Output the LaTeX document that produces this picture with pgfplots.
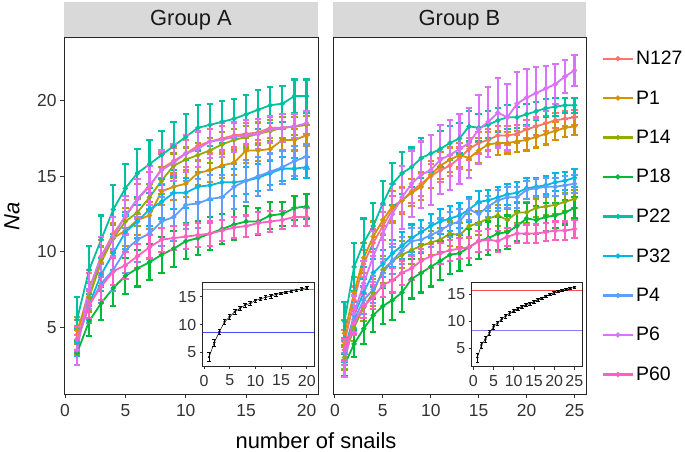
\documentclass[border=0pt]{standalone}
\usepackage{pgfplots}
\usepackage{pgfplotstable}
\usepackage{fontspec}
\setmainfont{Liberation Sans}
\pgfplotsset{compat=1.18}

\definecolor{cN127}{HTML}{F8766D}
\definecolor{cP1}{HTML}{D39200}
\definecolor{cP14}{HTML}{93AA00}
\definecolor{cP18}{HTML}{00BA38}
\definecolor{cP22}{HTML}{00C19F}
\definecolor{cP32}{HTML}{00B9E3}
\definecolor{cP4}{HTML}{619CFF}
\definecolor{cP6}{HTML}{DB72FB}
\definecolor{cP60}{HTML}{FF61C3}
\definecolor{strip}{HTML}{D9D9D9}

\pgfplotstableread{
x N127 eN127 P1 eP1 P14 eP14 P18 eP18 P22 eP22 P32 eP32 P4 eP4 P6 eP6 P60 eP60
1 4.5 1.0 4.8 0.9 4.0 0.8 3.3 0.8 5.5 1.5 4.0 0.9 4.2 0.9 3.5 1.0 4.2 0.8
2 7.5 1.1 7.0 1.0 7.0 0.9 5.4 1.0 8.8 1.6 6.5 1.0 6.4 1.1 7.5 1.3 6.5 0.9
3 9.7 1.1 9.3 1.0 9.5 0.9 6.6 1.1 10.8 1.6 8.5 1.1 7.9 1.3 9.7 1.3 7.7 0.9
4 11.2 1.1 10.9 1.0 10.9 0.9 7.6 1.2 12.8 1.6 9.9 1.1 8.8 1.4 11.0 1.3 8.7 0.9
5 12.3 1.1 11.4 1.0 12.0 0.9 8.4 1.2 14.2 1.6 11.3 1.1 10.1 1.5 12.4 1.3 9.1 0.9
6 13.5 1.0 12.1 1.0 12.6 0.9 8.9 1.2 15.2 1.6 12.0 1.1 10.8 1.5 13.5 1.3 9.7 0.8
7 14.3 1.0 12.4 0.9 13.6 0.9 9.3 1.2 15.8 1.6 12.8 1.1 11.2 1.6 14.4 1.3 10.3 0.8
8 15.5 1.0 14.0 0.9 14.7 0.9 9.8 1.2 16.4 1.6 13.3 1.1 12.0 1.6 15.4 1.3 10.8 0.8
9 16.0 0.9 14.3 0.9 15.7 0.8 10.2 1.2 17.0 1.6 13.9 1.1 12.3 1.6 15.9 1.2 10.9 0.8
10 16.5 0.9 14.5 0.9 16.1 0.8 10.7 1.2 17.6 1.5 13.9 1.0 13.1 1.6 16.5 1.2 11.0 0.8
11 17.0 0.9 15.2 0.8 16.4 0.8 10.9 1.1 18.2 1.5 14.3 1.0 13.2 1.6 16.8 1.2 11.1 0.8
12 17.3 0.8 15.4 0.8 16.7 0.8 11.2 1.1 18.4 1.4 14.4 1.0 13.5 1.6 17.3 1.1 11.2 0.8
13 17.5 0.8 15.7 0.8 17.1 0.8 11.5 1.0 18.6 1.4 14.6 1.0 13.6 1.5 17.4 1.1 11.4 0.7
14 17.7 0.8 15.9 0.8 17.4 0.7 11.8 1.0 18.8 1.3 14.6 0.9 14.3 1.5 17.6 1.0 11.6 0.7
15 17.8 0.7 16.7 0.8 17.6 0.7 12.0 1.0 19.1 1.3 14.7 0.9 14.7 1.4 17.7 1.0 11.7 0.7
16 17.9 0.7 16.7 0.7 17.8 0.7 12.0 0.9 19.4 1.3 14.9 0.9 15.0 1.3 17.8 1.0 11.9 0.7
17 18.2 0.7 16.8 0.7 18.0 0.7 12.4 0.9 19.7 1.2 15.2 0.8 15.3 1.2 18.1 0.9 12.0 0.7
18 18.2 0.7 17.4 0.7 18.2 0.7 12.5 0.8 19.8 1.2 15.5 0.8 15.6 1.1 18.2 0.9 12.1 0.6
19 18.3 0.6 17.4 0.7 18.3 0.6 12.9 0.8 20.3 1.1 15.5 0.7 16.0 1.0 18.3 0.8 12.3 0.6
20 18.4 0.6 17.7 0.7 18.4 0.6 13.0 0.8 20.3 1.1 15.6 0.7 16.3 0.8 18.5 0.8 12.3 0.6
}\tA

\pgfplotstableread{
x N127 eN127 P1 eP1 P14 eP14 P18 eP18 P22 eP22 P32 eP32 P4 eP4 P6 eP6 P60 eP60
1 4.0 0.8 4.6 0.9 3.0 0.8 2.5 0.7 5.4 1.3 3.5 0.8 3.3 0.8 2.5 0.8 3.5 0.7
2 6.8 0.9 7.3 1.0 5.0 0.9 3.9 0.9 9.0 1.6 5.8 0.9 5.5 0.9 5.9 1.2 5.3 0.8
3 9.2 0.9 9.6 1.0 6.3 0.9 4.9 1.0 10.6 1.6 7.3 0.9 6.8 0.9 7.9 1.5 6.4 0.8
4 10.6 0.9 11.0 1.0 7.3 0.9 5.8 1.1 11.7 1.5 8.6 0.9 7.5 0.9 9.7 1.7 7.0 0.8
5 11.7 0.9 12.1 1.0 8.8 0.9 6.4 1.2 13.2 1.5 9.2 0.9 8.6 0.9 11.2 1.9 7.8 0.8
6 12.8 0.9 13.0 1.0 9.4 0.9 6.8 1.3 14.5 1.4 9.9 0.9 9.4 0.9 12.5 2.0 8.1 0.8
7 13.4 0.8 13.4 0.9 9.8 0.9 7.3 1.3 15.2 1.4 10.4 0.9 10.1 0.9 13.6 2.1 8.6 0.8
8 14.0 0.8 13.9 0.9 10.1 0.9 8.2 1.3 15.6 1.3 10.9 0.9 10.7 0.9 14.5 2.2 8.9 0.8
9 14.5 0.8 14.3 0.9 10.4 0.9 8.6 1.3 16.2 1.3 11.3 0.8 10.8 0.8 15.1 2.2 9.4 0.8
10 15.0 0.8 15.1 0.9 10.6 0.8 9.0 1.3 16.5 1.2 11.7 0.8 11.1 0.8 15.4 2.3 9.7 0.8
11 15.4 0.8 15.7 0.9 10.8 0.8 9.4 1.3 16.8 1.2 12.0 0.8 11.4 0.8 16.1 2.3 9.9 0.7
12 15.7 0.7 16.1 0.8 11.2 0.8 9.8 1.3 17.2 1.1 12.2 0.8 11.8 0.8 16.4 2.3 10.1 0.7
13 16.2 0.7 16.4 0.8 11.1 0.8 9.9 1.2 17.5 1.0 12.4 0.8 12.0 0.8 16.8 2.3 10.2 0.7
14 16.8 0.7 16.2 0.8 11.7 0.8 10.3 1.2 18.3 1.0 12.8 0.8 12.8 0.7 17.2 2.3 10.3 0.7
15 17.2 0.7 16.7 0.8 11.9 0.8 10.7 1.2 18.2 0.9 13.3 0.7 12.5 0.7 18.1 2.3 10.7 0.7
16 17.4 0.7 17.1 0.8 12.2 0.7 10.9 1.1 18.4 0.9 13.4 0.7 13.0 0.7 18.6 2.3 10.8 0.7
17 17.7 0.6 17.2 0.8 12.4 0.7 11.2 1.1 18.7 0.8 13.6 0.7 13.4 0.7 19.2 2.3 10.7 0.7
18 17.7 0.6 17.2 0.7 12.1 0.7 11.3 1.1 18.9 0.8 13.8 0.7 13.6 0.7 18.9 2.2 11.0 0.6
19 17.8 0.6 17.3 0.7 12.6 0.7 11.7 1.0 18.9 0.7 13.9 0.7 13.6 0.7 19.8 2.1 11.2 0.6
20 18.1 0.6 17.4 0.7 12.6 0.7 12.2 1.0 19.1 0.7 14.2 0.7 14.1 0.6 20.2 1.9 11.2 0.6
21 18.3 0.6 17.6 0.7 12.9 0.6 12.1 0.9 19.3 0.6 14.3 0.6 14.2 0.6 20.5 1.7 11.2 0.6
22 18.5 0.5 17.8 0.7 13.0 0.6 12.3 0.9 19.5 0.6 14.4 0.6 14.3 0.6 20.8 1.5 11.3 0.6
23 18.7 0.5 18.0 0.6 13.1 0.6 12.4 0.8 19.6 0.6 14.6 0.6 14.3 0.6 21.1 1.3 11.4 0.6
24 18.8 0.5 18.2 0.6 13.3 0.6 12.6 0.8 19.7 0.5 14.7 0.6 14.4 0.6 21.6 1.1 11.4 0.6
25 18.9 0.5 18.3 0.6 13.5 0.6 12.9 0.7 19.7 0.5 14.9 0.6 14.5 0.6 22.0 1.0 11.5 0.6
}\tB

\pgfplotstableread{
x y e
1 4.2 0.8
2 6.8 0.6
3 8.75 0.5
4 10.5 0.5
5 11.4 0.45
6 12.3 0.4
7 12.9 0.4
8 13.5 0.35
9 13.8 0.35
10 14.3 0.3
11 14.6 0.3
12 14.9 0.3
13 15.1 0.3
14 15.4 0.25
15 15.6 0.25
16 15.8 0.25
17 16.0 0.2
18 16.2 0.2
19 16.4 0.2
20 16.6 0.2
}\iA

\pgfplotstableread{
x y e
1 3.3 0.8
2 5.6 0.6
3 6.7 0.5
4 7.9 0.5
5 9.0 0.45
6 9.7 0.4
7 10.4 0.4
8 11.0 0.35
9 11.5 0.35
10 11.9 0.3
11 12.3 0.3
12 12.7 0.3
13 13.0 0.3
14 13.3 0.25
15 13.6 0.25
16 14.0 0.25
17 14.3 0.2
18 14.7 0.2
19 15.0 0.2
20 15.3 0.2
21 15.5 0.2
22 15.7 0.2
23 15.9 0.15
24 16.1 0.15
25 16.3 0.15
}\iB

\pgfplotsset{
  mainax/.style={
    scale only axis, width=#1, height=356bp,
    ymin=0.58, ymax=24.15,
    tick align=outside, tick pos=left,
    major tick length=4bp,
    every tick/.style={black!80, line width=0.9bp},
    axis line style={black!85, line width=1bp},
    tick label style={font=\fontsize{17.5}{17.5}\selectfont, text=black!80},
    xticklabel style={yshift=-3bp},
    /pgf/number format/assume math mode=true,
  },
  ser/.style={color=#1, line width=1.8bp, mark=*, mark size=1.6bp, mark options={solid},
    error bars/.cd, y dir=both, y explicit,
    error bar style={line width=2.1bp, #1},
    error mark options={rotate=90, mark size=3.2bp, line width=2.1bp, #1}},
  inset/.style={
    scale only axis, axis background/.style={fill=white},
    axis line style={black!85, line width=0.9bp},
    tick align=outside, tick pos=left, major tick length=3bp,
    every tick/.style={black!80, line width=0.8bp},
    ytick={5,10,15},
    tick label style={font=\fontsize{16}{16}\selectfont, text=black!80},
    xticklabel style={yshift=-2.5bp},
    /pgf/number format/assume math mode=true,
  },
  iser/.style={black, line width=0.5bp, mark=*, mark size=0.9bp,
    error bars/.cd, y dir=both, y explicit,
    error bar style={line width=0.5bp},
    error mark options={rotate=90, mark size=1.8bp, line width=0.5bp}},
}

\begin{document}
\begin{tikzpicture}
\path[use as bounding box] (0bp,0bp) rectangle (685bp,452bp);

% strips
\fill[strip] (64bp,414bp) rectangle (318bp,450bp);
\node[font=\fontsize{22}{22}\selectfont, text=black!90] at (191bp,432bp) {Group A};
\fill[strip] (333bp,414bp) rectangle (586bp,450bp);
\node[font=\fontsize{22}{22}\selectfont, text=black!90] at (459.5bp,432bp) {Group B};

% Panel A
\begin{axis}[mainax=254bp, at={(64bp,58bp)}, anchor=south west,
  xmin=-0.08, xmax=20.95, xtick={0,5,10,15,20}, ytick={5,10,15,20}]
\addplot[ser=cN127] table[x=x, y=N127, y error=eN127] {\tA};
\addplot[ser=cP1] table[x=x, y=P1, y error=eP1] {\tA};
\addplot[ser=cP14] table[x=x, y=P14, y error=eP14] {\tA};
\addplot[ser=cP18] table[x=x, y=P18, y error=eP18] {\tA};
\addplot[ser=cP22] table[x=x, y=P22, y error=eP22] {\tA};
\addplot[ser=cP32] table[x=x, y=P32, y error=eP32] {\tA};
\addplot[ser=cP4] table[x=x, y=P4, y error=eP4] {\tA};
\addplot[ser=cP6] table[x=x, y=P6, y error=eP6] {\tA};
\addplot[ser=cP60] table[x=x, y=P60, y error=eP60] {\tA};
\end{axis}

% Panel B
\begin{axis}[mainax=253bp, at={(333bp,58bp)}, anchor=south west,
  xmin=-0.2, xmax=26.2, xtick={0,5,10,15,20,25}, ytick=\empty,
  legend style={at={(1.05,0.975)}, anchor=north west, draw=none, fill=none,
    font=\fontsize{19.5}{19.5}\selectfont, row sep=20.5bp,
    nodes={inner sep=2bp}},
  legend cell align=left,
  legend image code/.code={\draw[#1, mark repeat=2, mark phase=2, mark size=1.3bp, line width=2.2bp] plot coordinates {(0bp,0bp) (15bp,0bp) (30bp,0bp)};}]
\addplot[ser=cN127] table[x=x, y=N127, y error=eN127] {\tB};
\addplot[ser=cP1] table[x=x, y=P1, y error=eP1] {\tB};
\addplot[ser=cP14] table[x=x, y=P14, y error=eP14] {\tB};
\addplot[ser=cP18] table[x=x, y=P18, y error=eP18] {\tB};
\addplot[ser=cP22] table[x=x, y=P22, y error=eP22] {\tB};
\addplot[ser=cP32] table[x=x, y=P32, y error=eP32] {\tB};
\addplot[ser=cP4] table[x=x, y=P4, y error=eP4] {\tB};
\addplot[ser=cP6] table[x=x, y=P6, y error=eP6] {\tB};
\addplot[ser=cP60] table[x=x, y=P60, y error=eP60] {\tB};
\legend{N127,P1,P14,P18,P22,P32,P4,P6,P60}
\end{axis}

% Inset A
\begin{axis}[inset, width=111.3bp, height=83.3bp, at={(202.7bp,86bp)}, anchor=south west,
  xmin=-0.25, xmax=21.4, ymin=2.6, ymax=17.5, xtick={0,5,10,15,20}]
\addplot[red!60, line width=0.6bp] coordinates {(-0.25,16.3) (21.4,16.3)};
\addplot[blue!70, line width=0.6bp] coordinates {(-0.25,8.6) (21.4,8.6)};
\addplot[iser] table[x=x, y=y, y error=e] {\iA};
\end{axis}

% Inset B
\begin{axis}[inset, width=110.3bp, height=84bp, at={(471.7bp,85.3bp)}, anchor=south west,
  xmin=-0.4, xmax=26.9, ymin=1.6, ymax=17.15, xtick={0,5,10,15,20,25}]
\addplot[red!70, line width=0.6bp] coordinates {(-0.4,15.8) (26.9,15.8)};
\addplot[blue!50, line width=0.6bp] coordinates {(-0.4,8.3) (26.9,8.3)};
\addplot[iser] table[x=x, y=y, y error=e] {\iB};
\end{axis}

% axis titles
\node[font=\fontsize{22}{22}\selectfont, inner sep=0pt] at (316bp,11bp) {number of snails};
\node[font=\fontsize{22}{22}\selectfont\itshape, rotate=90, inner sep=0pt] at (12bp,236bp) {Na};
\end{tikzpicture}
\end{document}
